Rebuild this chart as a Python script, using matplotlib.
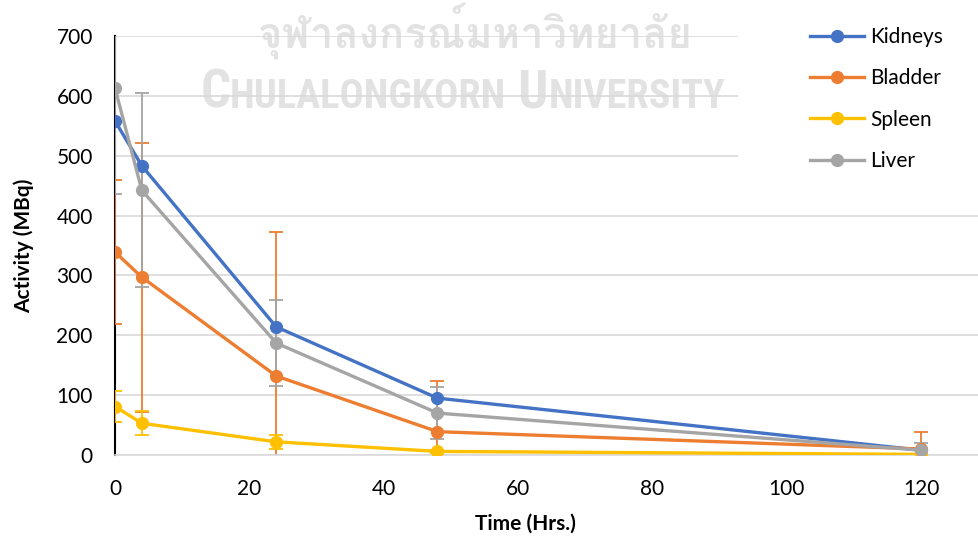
import matplotlib.pyplot as plt
from matplotlib import font_manager
from matplotlib.patches import Rectangle
from matplotlib.offsetbox import TextArea, HPacker, AnchoredOffsetbox

plt.rcParams.update({
    "font.family": ["Lato", "DejaVu Sans"],
    "font.size": 15,
})

# --- Data ---
time_hrs = [0, 4, 24, 48, 120]
kidneys = [558, 483, 214, 95, 8]
bladder = [339, 297, 132, 39, 10]
spleen = [81, 53, 22, 6, 1]
liver = [613, 442, 187, 70, 8]

bladder_err = [120, 225, 240, 85, 29]
spleen_err = [26, 20, 12, 2, 1]
liver_err = [177, 162, 72, 43, 12]

series = [
    ("Kidneys", kidneys, None, "#4472C4"),
    ("Bladder", bladder, bladder_err, "#ED7D31"),
    ("Spleen", spleen, spleen_err, "#FFC000"),
    ("Liver", liver, liver_err, "#A5A5A5"),
]

fig = plt.figure(figsize=(9.79, 5.36), dpi=100)
ax = fig.add_axes([115 / 979, 1 - 455 / 536, 864 / 979, 419 / 536])
ax.set_facecolor("none")

# --- faint watermark behind the grid ---
wm_color = "#E2E2E2"
thai_fonts = [f.name for f in font_manager.fontManager.ttflist
              if "Thai" in f.name or f.name in ("Loma", "Garuda", "Norasi", "Kinnari")]
fig.text(475 / 979, 1 - 31 / 536, "จุฬาลงกรณ์มหาวิทยาลัย", ha="center", va="center",
         fontsize=30, fontweight="bold", color=wm_color, zorder=-1,
         family=thai_fonts[:1] + ["DejaVu Sans"])

wm_family = ["Roboto Condensed", "Liberation Sans Narrow", "DejaVu Sans Condensed", "Roboto", "DejaVu Sans"]
big = dict(fontsize=38, fontweight="bold", color=wm_color, family=wm_family)
small = dict(fontsize=29, fontweight="bold", color=wm_color, family=wm_family)
pieces = [TextArea("C", textprops=big), TextArea("HULALONGKORN", textprops=small),
          TextArea(" U", textprops=big), TextArea("NIVERSITY", textprops=small)]
wm = AnchoredOffsetbox(loc="center", child=HPacker(children=pieces, align="baseline", pad=0, sep=0),
                       bbox_to_anchor=(463 / 979, 1 - 93 / 536), bbox_transform=fig.transFigure,
                       frameon=False, pad=0, borderpad=0)
wm.set_zorder(-1)
fig.add_artist(wm)

# error bars first, behind the lines
for name, vals, err, color in series:
    if err is None:
        continue
    ax.errorbar(time_hrs, vals, yerr=err, fmt="none", ecolor=color,
                elinewidth=1.3, capsize=5, capthick=1.3, zorder=2)

for name, vals, err, color in series:
    ax.plot(time_hrs, vals, color=color, lw=2.4, marker="o", ms=8.5,
            label=name, zorder=3)

ax.set_xlim(0, 128.6)
ax.set_ylim(0, 700)
ax.set_xticks(range(0, 121, 20))
ax.set_yticks(range(0, 701, 100))
ax.grid(axis="y", color="#D9D9D9", lw=1.2, zorder=1)
ax.set_axisbelow(True)
ax.tick_params(length=0, labelsize=15)
ax.tick_params(axis="y", pad=16)
ax.tick_params(axis="x", pad=17)

for s in ["top", "right"]:
    ax.spines[s].set_visible(False)
ax.spines["left"].set_color("black")
ax.spines["left"].set_linewidth(1.5)
ax.spines["left"].set_zorder(1.5)
ax.spines["bottom"].set_color("#D9D9D9")
ax.spines["bottom"].set_linewidth(1.2)

ax.set_xlabel("Time (Hrs.)", fontweight="bold", fontsize=15, va="center")
ax.xaxis.set_label_coords((525 - 115) / 864, (455 - 524) / 419)
ax.set_ylabel("Activity (MBq)", fontweight="bold", fontsize=15, va="center")
ax.yaxis.set_label_coords((24 - 115) / 864, 0.5)

# white legend area covering the grid on the right
ax.add_patch(Rectangle((738 / 979, 1 - 182 / 536), 241 / 979, 170 / 536,
                       transform=fig.transFigure, facecolor="white", edgecolor="none",
                       clip_on=False, zorder=3.5))

leg = ax.legend(loc="upper left", bbox_to_anchor=(806 / 979, 1 - 23 / 536),
                bbox_transform=fig.transFigure, frameon=False, fontsize=15,
                handlelength=2.6, handletextpad=0.3, labelspacing=1.02,
                borderpad=0.2, borderaxespad=0)
leg.set_zorder(4)

fig.savefig("out.png", dpi=100)
